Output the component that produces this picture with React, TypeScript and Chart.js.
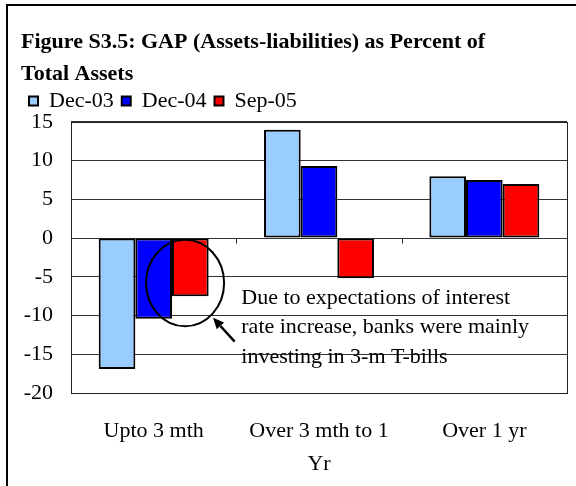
import React, { useEffect, useRef } from "react";
import { Chart, registerables } from "chart.js";

Chart.register(...registerables);

// ---- data ----
const categories: (string | string[])[] = ["Upto 3 mth", ["Over 3 mth to 1", "Yr"], "Over 1 yr"];
const seriesLabels = ["Dec-03", "Dec-04", "Sep-05"];
const dec03 = [-16.9, 14.0, 8.0];
const dec04 = [-10.4, 9.3, 7.5];
const sep05 = [-7.5, -5.2, 7.0];
const seriesColors = ["#99CCFF", "#0000FF", "#FF0000"];
const yMin = -20;
const yMax = 15;
const yStep = 5;
const titleLines = ["Figure S3.5: GAP (Assets-liabilities) as Percent of", "Total Assets"];
const noteLines = [
  "Due to expectations of interest",
  "rate increase, banks were mainly",
  "investing in 3-m T-bills",
];
// annotation anchors in data units (x: category index, y: value)
const circleCenter = { x: 0.19, y: -5.8 };
const circleRadius = { x: 0.236, y: 5.58 };
const arrowTail = { x: 0.49, y: -13.36 };
const arrowTip = { x: 0.359, y: -10.3 };
const noteAnchor = { x: 0.53, y: -7.7 };

const FONT = '"Liberation Serif", "Times New Roman", serif';
const FS = 22;

const framePlugin = {
  id: "frameAndTicks",
  beforeDatasetsDraw(chart: any) {
    const { ctx, chartArea, scales } = chart;
    const x = scales.x;
    const y = scales.y;
    ctx.save();
    ctx.strokeStyle = "#222";
    ctx.lineWidth = 1;
    ctx.strokeRect(
      Math.round(chartArea.left) + 0.5,
      Math.round(chartArea.top) + 0.5,
      Math.round(chartArea.right - chartArea.left),
      Math.round(chartArea.bottom - chartArea.top)
    );
    const y0 = Math.round(y.getPixelForValue(0)) + 0.5;
    ctx.beginPath();
    for (let i = 0; i <= categories.length; i++) {
      const px = Math.round(x.getPixelForValue(i - 0.5)) + 0.5;
      ctx.moveTo(px, y0);
      ctx.lineTo(px, y0 + 5);
    }
    ctx.stroke();
    ctx.restore();
  },
};

const notePlugin = {
  id: "note",
  afterDatasetsDraw(chart: any) {
    const { ctx, scales } = chart;
    const x = scales.x;
    const y = scales.y;
    const catW = x.getPixelForValue(1) - x.getPixelForValue(0);
    const unitH = y.getPixelForValue(0) - y.getPixelForValue(1);
    ctx.save();
    ctx.strokeStyle = "#000";
    ctx.lineWidth = 2;
    ctx.beginPath();
    ctx.ellipse(
      x.getPixelForValue(circleCenter.x),
      y.getPixelForValue(circleCenter.y),
      circleRadius.x * catW,
      circleRadius.y * unitH,
      0,
      0,
      Math.PI * 2
    );
    ctx.stroke();
    const tx = x.getPixelForValue(arrowTail.x);
    const ty = y.getPixelForValue(arrowTail.y);
    const hx = x.getPixelForValue(arrowTip.x);
    const hy = y.getPixelForValue(arrowTip.y);
    const ang = Math.atan2(hy - ty, hx - tx);
    const headLen = 11;
    const headW = 5;
    const bx = hx - headLen * Math.cos(ang);
    const by = hy - headLen * Math.sin(ang);
    ctx.lineWidth = 2.5;
    ctx.beginPath();
    ctx.moveTo(tx, ty);
    ctx.lineTo(bx, by);
    ctx.stroke();
    ctx.fillStyle = "#000";
    ctx.beginPath();
    ctx.moveTo(hx, hy);
    ctx.lineTo(bx + headW * Math.sin(ang), by - headW * Math.cos(ang));
    ctx.lineTo(bx - headW * Math.sin(ang), by + headW * Math.cos(ang));
    ctx.closePath();
    ctx.fill();
    ctx.font = `${FS}px ${FONT}`;
    ctx.textAlign = "left";
    ctx.textBaseline = "middle";
    const nx = x.getPixelForValue(noteAnchor.x);
    const ny = y.getPixelForValue(noteAnchor.y);
    noteLines.forEach((line, i) => {
      ctx.fillText(line, nx, ny + i * 29.5);
    });
    ctx.restore();
  },
};

export default function App() {
  const ref = useRef<HTMLCanvasElement | null>(null);
  useEffect(() => {
    if (!ref.current) return;
    const seriesData = [dec03, dec04, sep05];
    const chart = new Chart(ref.current, {
      type: "bar",
      data: {
        labels: categories as any,
        datasets: seriesLabels.map((label, i) => ({
          label,
          data: seriesData[i],
          backgroundColor: seriesColors[i],
          borderColor: "#000",
          borderWidth: 2,
          borderSkipped: false,
          categoryPercentage: 0.665,
          barPercentage: 1,
        })),
      },
      options: {
        responsive: false,
        animation: false,
        devicePixelRatio: 1,
        layout: { padding: { left: 21, right: 9, top: 0, bottom: 0 } },
        plugins: {
          title: {
            display: true,
            text: titleLines,
            align: "start",
            color: "#000",
            font: { family: FONT, size: FS, weight: "bold", lineHeight: 1.43 },
            padding: { top: 27, bottom: -8 },
          },
          legend: {
            display: true,
            align: "start",
            labels: {
              color: "#000",
              font: { family: FONT, size: FS },
              boxWidth: 9,
              boxHeight: 9,
              padding: 8,
            },
          },
          tooltip: { enabled: false },
        },
        scales: {
          x: {
            grid: { display: false },
            border: { display: false },
            ticks: {
              color: "#000",
              font: { family: FONT, size: FS, lineHeight: 1.5 },
              padding: 14,
              maxRotation: 0,
              autoSkip: false,
            },
            afterFit(scale: any) {
              scale.height = 93;
            },
          },
          y: {
            min: yMin,
            max: yMax,
            grid: { color: "#333", drawTicks: false, lineWidth: 1 },
            border: { display: false },
            ticks: {
              stepSize: yStep,
              color: "#000",
              font: { family: FONT, size: FS },
              padding: 18,
            },
            afterFit(scale: any) {
              scale.width = 50;
            },
          },
        },
      },
      plugins: [framePlugin, notePlugin],
    });
    return () => chart.destroy();
  }, []);

  return (
    <div style={{ position: "absolute", left: 0, top: 0, width: 576, height: 486, overflow: "hidden", background: "#fff" }}>
      <div
        style={{
          position: "absolute",
          left: 6,
          top: 4,
          width: 640,
          height: 640,
          border: "2px solid #000",
          boxSizing: "border-box",
        }}
      />
      <canvas ref={ref} width={576} height={486} style={{ position: "absolute", left: 0, top: 0 }} />
    </div>
  );
}
